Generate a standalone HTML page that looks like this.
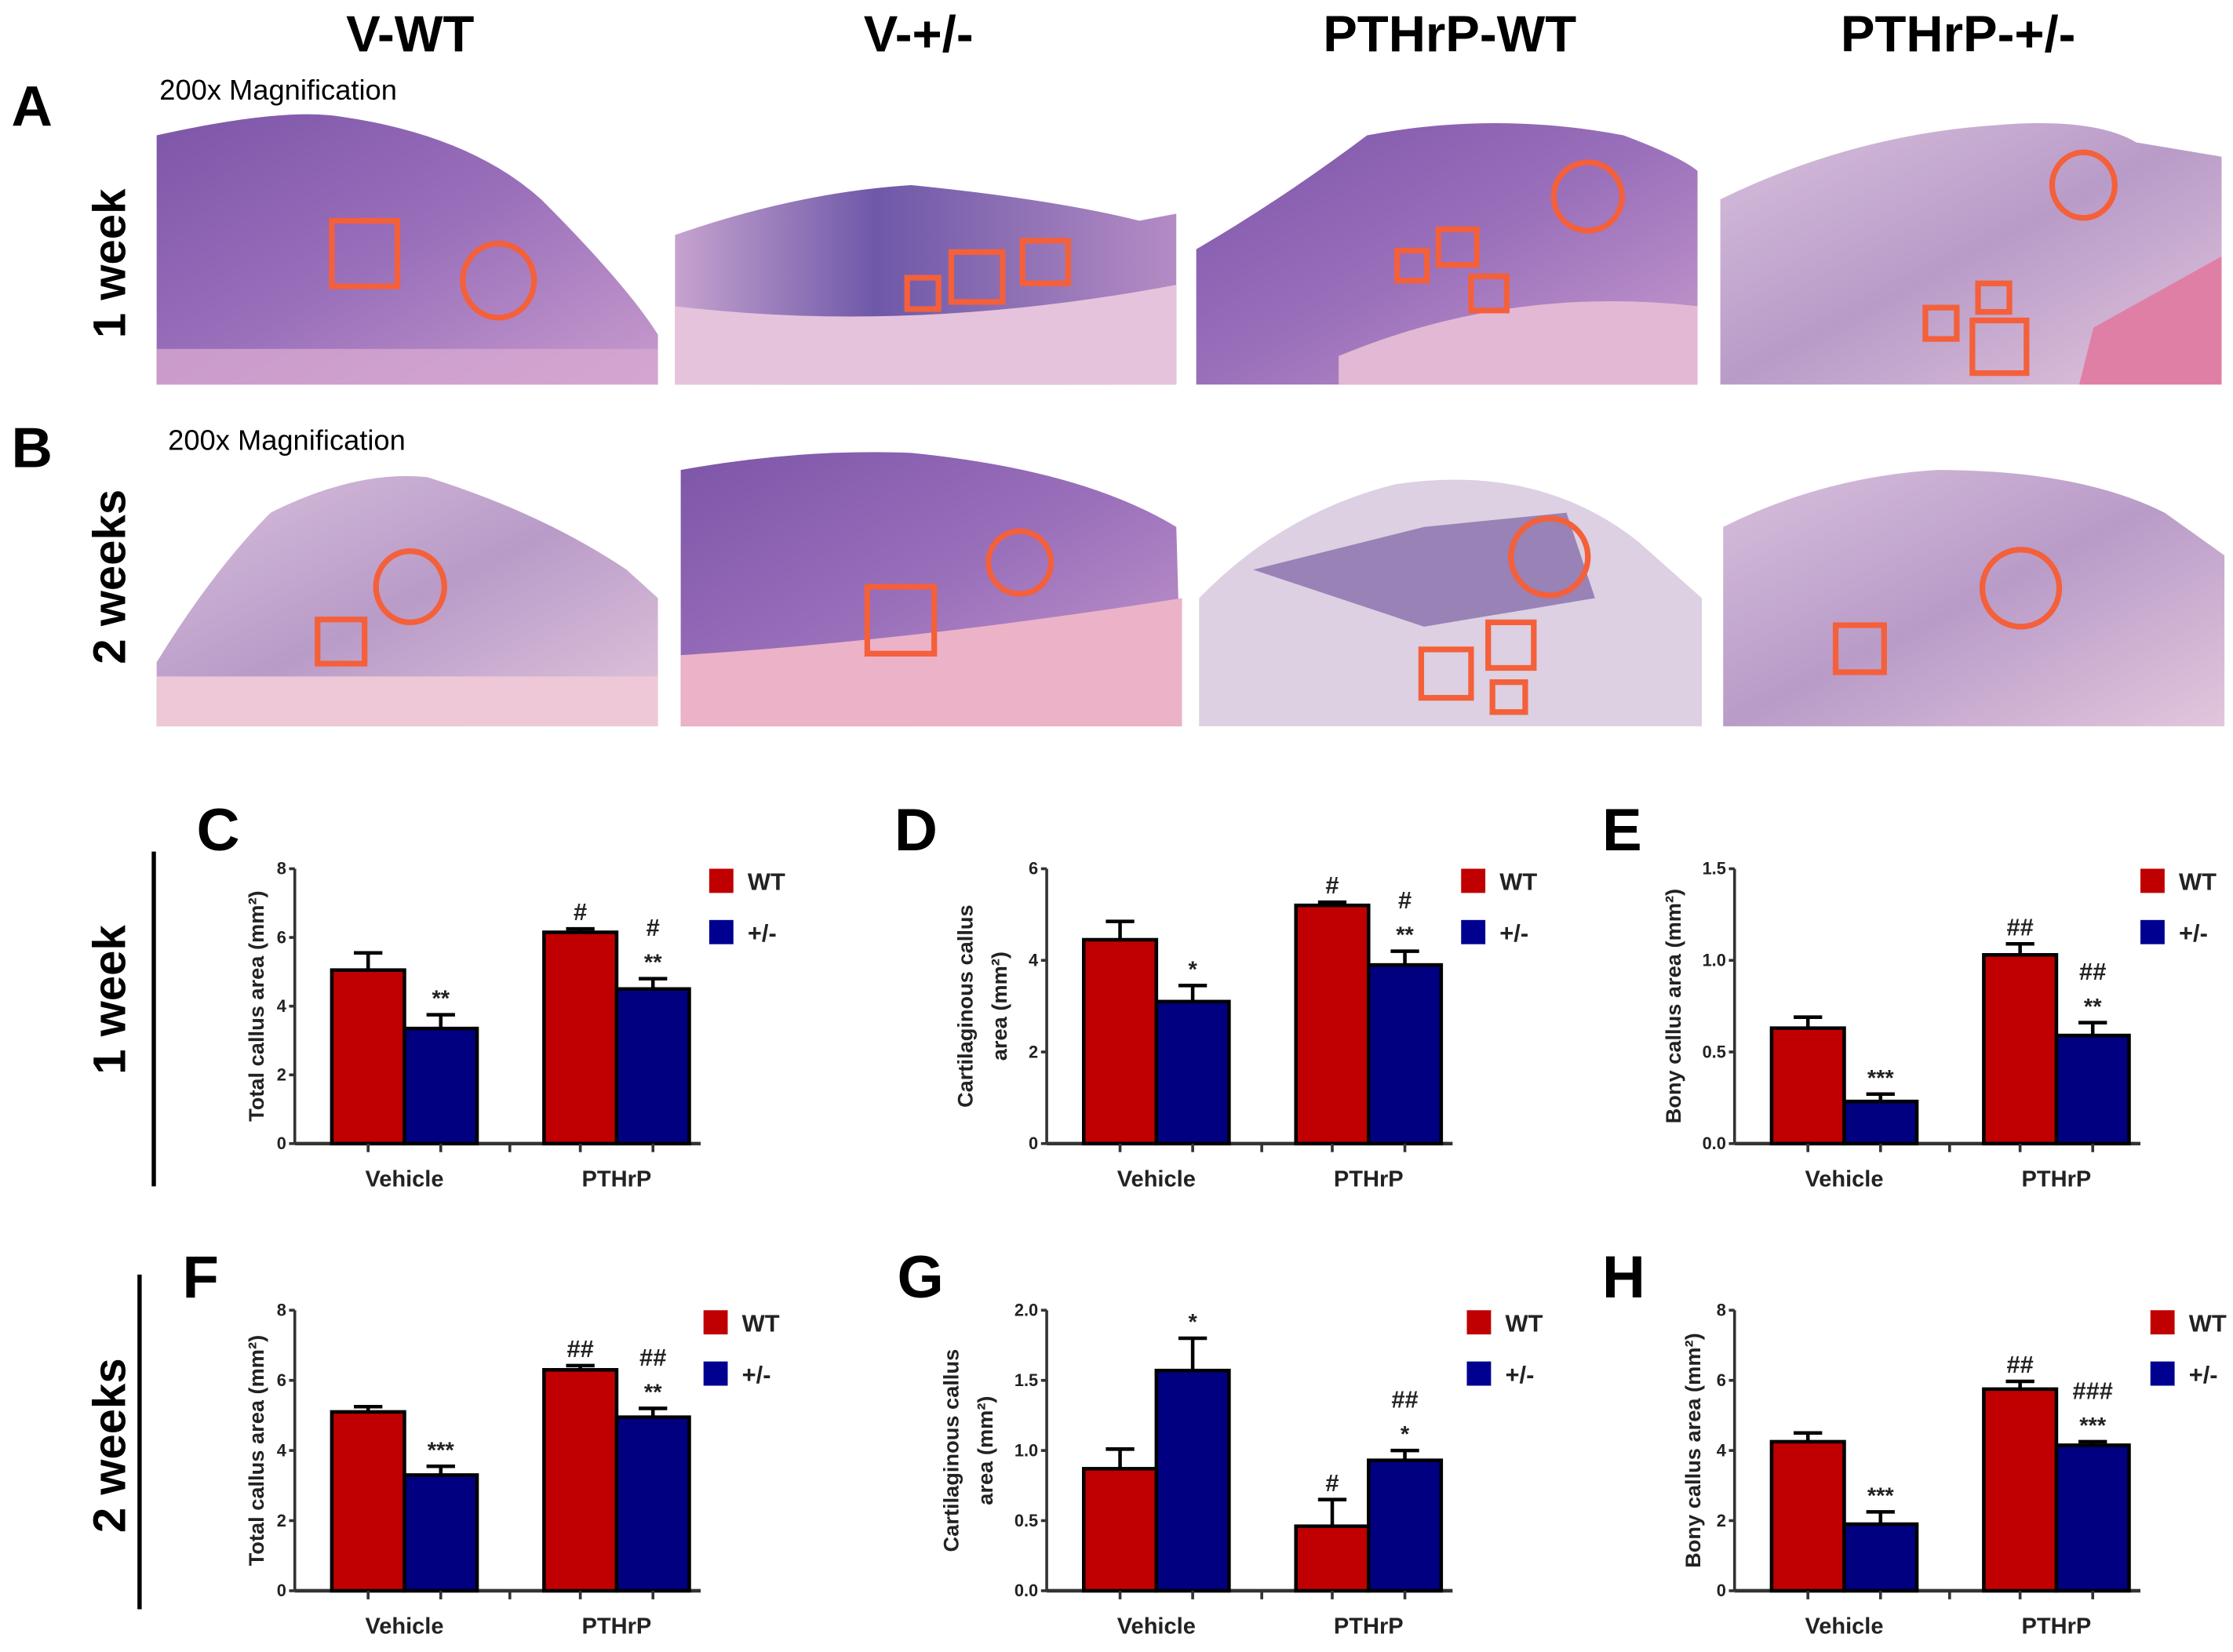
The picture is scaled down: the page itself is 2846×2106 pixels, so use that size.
<!DOCTYPE html>
<html><head><meta charset="utf-8"><style>
html,body{margin:0;padding:0;background:#fff;}
svg{display:block;}
text{font-family:"Liberation Sans",sans-serif;}
</style></head><body>
<svg id="fig" width="2846" height="2106" viewBox="0 0 1568 1160" preserveAspectRatio="none" xmlns="http://www.w3.org/2000/svg">
<defs>
<linearGradient id="purp" x1="0" y1="0" x2="1" y2="1">
<stop offset="0" stop-color="#7d55a8"/><stop offset="0.5" stop-color="#9a70bb"/><stop offset="1" stop-color="#c99ccd"/>
</linearGradient>
<linearGradient id="purp2" x1="0" y1="0" x2="1" y2="0">
<stop offset="0" stop-color="#c6a3cf"/><stop offset="0.4" stop-color="#6e58a8"/><stop offset="1" stop-color="#b48cc4"/>
</linearGradient>
<linearGradient id="pale" x1="0" y1="0" x2="1" y2="1">
<stop offset="0" stop-color="#d8c0dc"/><stop offset="0.5" stop-color="#b99bc8"/><stop offset="1" stop-color="#e2c6dc"/>
</linearGradient>
</defs>
<g font-weight="bold" font-size="36" text-anchor="middle">
<text x="288" y="36">V-WT</text>
<text x="645" y="36">V-+/-</text>
<text x="1018" y="36">PTHrP-WT</text>
<text x="1375" y="36">PTHrP-+/-</text>
</g>
<text x="8" y="88" font-size="40" font-weight="bold">A</text>
<text x="8" y="328" font-size="40" font-weight="bold">B</text>
<text x="112" y="70" font-size="20">200x Magnification</text>
<text x="118" y="316" font-size="20">200x Magnification</text>
<text font-size="32" font-weight="bold" text-anchor="middle" transform="translate(88,185) rotate(-90)">1 week</text>
<text font-size="32" font-weight="bold" text-anchor="middle" transform="translate(88,405) rotate(-90)">2 weeks</text>

<g>
<path d="M110 95 Q200 75 240 82 Q330 95 380 140 Q440 200 462 235 L462 270 L110 270 Z" fill="url(#purp)"/>
<rect x="110" y="245" width="352" height="25" fill="#d7a8d0" opacity="0.8"/>
<path d="M474 165 Q560 135 640 130 Q740 140 800 155 L826 150 L826 270 L474 270 Z" fill="url(#purp2)"/>
<path d="M474 215 Q640 235 826 200 L826 270 L474 270 Z" fill="#e6c3dc"/>
<path d="M840 175 Q900 140 960 95 Q1050 78 1140 95 Q1180 110 1192 120 L1192 270 L840 270 Z" fill="url(#purp)"/>
<path d="M940 250 Q1060 200 1192 215 L1192 270 L940 270 Z" fill="#e3b8d4"/>
<path d="M1208 140 Q1300 95 1400 88 Q1470 82 1500 100 L1560 110 L1560 270 L1208 270 Z" fill="url(#pale)"/>
<path d="M1470 230 L1560 180 L1560 270 L1460 270 Z" fill="#e07fa5"/>
</g>
<g>
<path d="M110 465 Q150 400 190 360 Q250 330 300 335 Q380 360 440 400 L462 420 L462 510 L110 510 Z" fill="url(#pale)"/>
<rect x="110" y="475" width="352" height="35" fill="#eec8d6"/>
<path d="M478 330 Q560 315 640 318 Q760 330 826 370 L830 510 L478 510 Z" fill="url(#purp)"/>
<path d="M478 460 Q640 450 830 420 L830 510 L478 510 Z" fill="#ecb2c8"/>
<path d="M842 420 Q900 360 980 340 Q1080 325 1150 380 L1195 420 L1195 510 L842 510 Z" fill="#dcd0e2"/>
<path d="M880 400 L1000 370 L1100 360 L1120 420 L1000 440 Z" fill="#6a4f9a" opacity="0.6"/>
<path d="M1210 370 Q1280 335 1360 330 Q1460 330 1520 360 L1562 390 L1562 510 L1210 510 Z" fill="url(#pale)"/>
</g>
<g fill="none" stroke="#f4603a" stroke-width="4">
<rect x="233" y="155" width="46" height="46"/><ellipse cx="350" cy="197" rx="25" ry="26"/>
<rect x="637" y="195" width="22" height="22"/><rect x="668" y="177" width="36" height="35"/><rect x="718" y="169" width="32" height="30"/>
<ellipse cx="1115" cy="138" rx="24" ry="24"/><rect x="981" y="176" width="21" height="21"/><rect x="1010" y="161" width="27" height="25"/><rect x="1033" y="194" width="25" height="24"/>
<ellipse cx="1463" cy="130" rx="22" ry="23"/><rect x="1352" y="216" width="22" height="22"/><rect x="1389" y="199" width="22" height="20"/><rect x="1385" y="225" width="38" height="37"/>
<ellipse cx="288" cy="412" rx="24" ry="25"/><rect x="223" y="435" width="33" height="31"/>
<ellipse cx="716" cy="395" rx="22" ry="22"/><rect x="609" y="412" width="47" height="47"/>
<ellipse cx="1088" cy="391" rx="27" ry="27"/><rect x="1045" y="437" width="32" height="32"/><rect x="998" y="456" width="35" height="34"/><rect x="1048" y="479" width="23" height="21"/>
<ellipse cx="1419" cy="413" rx="27" ry="27"/><rect x="1289" y="439" width="34" height="33"/>
</g>

<line x1="108" y1="598" x2="108" y2="833" stroke="#000" stroke-width="3"/>
<line x1="98" y1="895" x2="98" y2="1130" stroke="#000" stroke-width="3"/>
<text font-size="32" font-weight="bold" text-anchor="middle" transform="translate(88,702) rotate(-90)">1 week</text>
<text font-size="32" font-weight="bold" text-anchor="middle" transform="translate(88,1015) rotate(-90)">2 weeks</text>
<g id="charts"></g>
</svg>
<script>
const categories = ["Vehicle", "PTHrP"];
const cWT = [5.05, 6.15], cHet = [3.35, 4.5], cWTErr = [0.5, 0.1], cHetErr = [0.4, 0.3];
const cTicks = [0, 2, 4, 6, 8], cTickLabels = ["0", "2", "4", "6", "8"];
const cWTMarks = ["", "#"], cHetMarks = ["**", "#|**"];
const dWT = [4.45, 5.2], dHet = [3.1, 3.9], dWTErr = [0.4, 0.07], dHetErr = [0.35, 0.3];
const dTicks = [0, 2, 4, 6], dTickLabels = ["0", "2", "4", "6"];
const dWTMarks = ["", "#"], dHetMarks = ["*", "#|**"];
const eWT = [0.63, 1.03], eHet = [0.23, 0.59], eWTErr = [0.06, 0.06], eHetErr = [0.04, 0.07];
const eTicks = [0, 0.5, 1.0, 1.5], eTickLabels = ["0.0", "0.5", "1.0", "1.5"];
const eWTMarks = ["", "##"], eHetMarks = ["***", "##|**"];
const fWT = [5.1, 6.3], fHet = [3.3, 4.95], fWTErr = [0.15, 0.12], fHetErr = [0.25, 0.25];
const fTicks = [0, 2, 4, 6, 8], fTickLabels = ["0", "2", "4", "6", "8"];
const fWTMarks = ["", "##"], fHetMarks = ["***", "##|**"];
const gWT = [0.87, 0.46], gHet = [1.57, 0.93], gWTErr = [0.14, 0.19], gHetErr = [0.23, 0.07];
const gTicks = [0, 0.5, 1.0, 1.5, 2.0], gTickLabels = ["0.0", "0.5", "1.0", "1.5", "2.0"];
const gWTMarks = ["", "#"], gHetMarks = ["*", "##|*"];
const hWT = [4.25, 5.75], hHet = [1.9, 4.15], hWTErr = [0.25, 0.22], hHetErr = [0.35, 0.1];
const hTicks = [0, 2, 4, 6, 8], hTickLabels = ["0", "2", "4", "6", "8"];
const hWTMarks = ["", "##"], hHetMarks = ["***", "###|***"];

const NS = "http://www.w3.org/2000/svg";
const root = document.getElementById("charts");
function mk(tag, attrs, parent, txt) {
  const e = document.createElementNS(NS, tag);
  for (const k in attrs) e.setAttribute(k, attrs[k]);
  if (txt !== undefined) e.textContent = txt;
  parent.appendChild(e);
  return e;
}
function drawChart(id, letter, lx, ox, y0, yTop, maxV, wt, het, wtErr, hetErr, ticks, tickLabels, wtMarks, hetMarks, yLabel, legX, labOff) {
  const g = mk("g", {}, root);
  
  
  const y = v => y0 - (v / maxV) * (y0 - yTop);
  const L = mk("text", {x: lx, y: y0 - 206, "font-size": 42, "font-weight": "bold"}, g, letter);
  
  
  const ya = mk("line", {x1: ox, y1: yTop, x2: ox, y2: y0, stroke: "#333", "stroke-width": 2}, g);
  
  
  ticks.forEach((t, i) => {
    mk("line", {x1: ox - 4, y1: y(t), x2: ox, y2: y(t), stroke: "#333", "stroke-width": 2}, g);
    const tl = mk("text", {x: ox - 6, y: y(t) + 4, "font-size": 12, "font-weight": "bold", "text-anchor": "end", fill: "#222"}, g, tickLabels[i]);
    
    
  });
  const xEnd = ox + 285;
  const xa = mk("line", {x1: ox, y1: y0, x2: xEnd, y2: y0, stroke: "#333", "stroke-width": 2.5}, g);
  
  
  const bw = 51;
  const centers = [ox + 77, ox + 226];
  categories.forEach((c, i) => {
    const cx = centers[i];
    [[wt, wtErr, wtMarks, "#c00000", -bw, "wt"], [het, hetErr, hetMarks, "#000080", 0, "het"]].forEach(s => {
      const v = s[0][i], e = s[1][i], x = cx + s[4];
      const r = mk("rect", {x: x, y: y(v), width: bw, height: y0 - y(v), fill: s[3], stroke: "#000", "stroke-width": 2.5}, g);
      
      
      const ex = x + bw / 2;
      mk("line", {x1: ex, y1: y(v), x2: ex, y2: y(v + e), stroke: "#000", "stroke-width": 2.5}, g);
      mk("line", {x1: ex - 10, y1: y(v + e), x2: ex + 10, y2: y(v + e), stroke: "#000", "stroke-width": 2.5}, g);
      mk("line", {x1: ex, y1: y0, x2: ex, y2: y0 + 6, stroke: "#333", "stroke-width": 2}, g);
      const marks = s[2][i] ? s[2][i].split("|") : [];
      marks.reverse().forEach((m, k) => {
        const mt = mk("text", {x: ex, y: y(v + e) - 6 - k * 24, "font-size": m.indexOf("*") >= 0 ? 16 : 17, "font-weight": "bold", "text-anchor": "middle", fill: "#222"}, g, m);
        
        
      });
    });
    const cl = mk("text", {x: cx, y: y0 + 30, "font-size": 16, "font-weight": "bold", "text-anchor": "middle", fill: "#222"}, g, c);
    
    
  });
  mk("line", {x1: ox + 151, y1: y0, x2: ox + 151, y2: y0 + 6, stroke: "#333", "stroke-width": 2}, g);
  const yl = mk("text", {"font-size": 15, "font-weight": "bold", "text-anchor": "middle", fill: "#222", transform: "translate(" + (ox - labOff) + "," + ((y0 + yTop) / 2) + ") rotate(-90)"}, g);
  
  
  yLabel.forEach((ln, k) => {
    mk("tspan", {x: 0, dy: k === 0 ? 0 : 24}, yl, ln);
  });
  const lg = mk("g", {}, g);
  
  
  mk("rect", {x: legX, y: yTop, width: 17, height: 17, fill: "#c00000"}, lg);
  mk("text", {x: legX + 27, y: yTop + 15, "font-size": 17, "font-weight": "bold", fill: "#222"}, lg, "WT");
  mk("rect", {x: legX, y: yTop + 36, width: 17, height: 17, fill: "#000090"}, lg);
  mk("text", {x: legX + 27, y: yTop + 51, "font-size": 17, "font-weight": "bold", fill: "#222"}, lg, "+/-");
}
drawChart("c", "C", 138, 207, 803, 610, 8, cWT, cHet, cWTErr, cHetErr, cTicks, cTickLabels, cWTMarks, cHetMarks, ["Total callus area (mm²)"], 498, 22);
drawChart("d", "D", 628, 735, 803, 610, 6, dWT, dHet, dWTErr, dHetErr, dTicks, dTickLabels, dWTMarks, dHetMarks, ["Cartilaginous callus", "area (mm²)"], 1026, 52);
drawChart("e", "E", 1125, 1218, 803, 610, 1.5, eWT, eHet, eWTErr, eHetErr, eTicks, eTickLabels, eWTMarks, eHetMarks, ["Bony callus area (mm²)"], 1503, 38);
drawChart("f", "F", 128, 207, 1117, 920, 8, fWT, fHet, fWTErr, fHetErr, fTicks, fTickLabels, fWTMarks, fHetMarks, ["Total callus area (mm²)"], 494, 22);
drawChart("g", "G", 630, 735, 1117, 920, 2, gWT, gHet, gWTErr, gHetErr, gTicks, gTickLabels, gWTMarks, gHetMarks, ["Cartilaginous callus", "area (mm²)"], 1030, 62);
drawChart("h", "H", 1125, 1218, 1117, 920, 8, hWT, hHet, hWTErr, hHetErr, hTicks, hTickLabels, hWTMarks, hHetMarks, ["Bony callus area (mm²)"], 1510, 24);
</script>
</body></html>
